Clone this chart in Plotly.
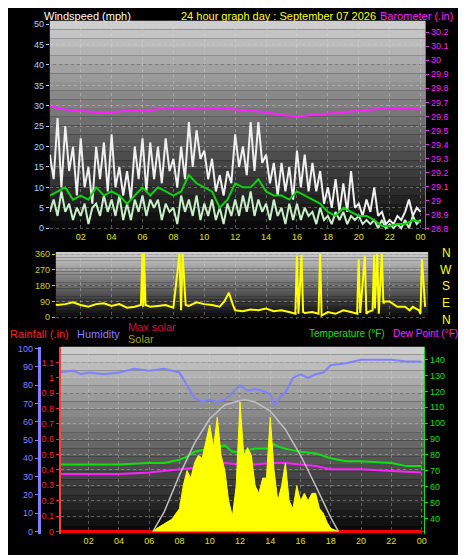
import plotly.graph_objects as go

# ---- data ----
q_hours = [i * 0.25 for i in range(97)]
gust = [18, 12, 27, 10, 25, 14, 20, 8, 22, 10, 15, 6, 20, 12, 21, 9,
        23, 10, 15, 8, 14, 7, 20, 12, 22, 9, 21, 12, 20, 11, 22, 14,
        17, 10, 20, 12, 26, 15, 24, 17, 19, 12, 17, 9, 13, 8, 14, 11,
        23, 15, 20, 13, 26, 14, 26, 16, 18, 11, 16, 8, 16, 9, 15, 7,
        19, 10, 18, 9, 16, 9, 14, 6, 10, 5, 12, 4, 11, 4, 14, 5,
        6, 3, 7, 4, 10, 3, 4, 1, 2, 1, 3, 2, 4, 7, 3, 5, 4]
speed = [4, 7, 3, 9, 4, 6, 2, 5, 3, 6, 1, 5, 6, 3, 8, 4,
         7, 3, 8, 2, 6, 2, 7, 4, 8, 3, 7, 5, 7, 2, 6, 4,
         5, 1, 8, 4, 7, 3, 8, 2, 6, 3, 7, 2, 5, 1, 6, 3,
         7, 3, 8, 4, 9, 3, 7, 4, 6, 2, 7, 3, 5, 1, 6, 2,
         6, 2, 5, 3, 4, 1, 5, 2, 3, 1, 4, 2, 4, 1, 3, 2,
         3, 1, 2, 1, 2, 0, 2, 0, 1, 0, 1, 0, 2, 0, 3, 1, 2]
h_hours = [i * 0.5 for i in range(49)]
avg_speed = [8, 9, 10, 7, 8, 7, 10, 8, 9, 8, 6, 8, 10, 8, 10, 9, 8, 9, 13, 11,
             10, 9, 5, 7, 11, 10, 10, 12, 9, 8, 8, 7, 9, 8, 7, 6, 4, 3, 5, 4,
             3, 3, 2, 0.5, 0.5, 1, 1, 2, 1.5]
hours = list(range(25))
baro = [29.67, 29.65, 29.64, 29.63, 29.63, 29.64, 29.64, 29.65, 29.66, 29.66,
        29.66, 29.66, 29.65, 29.64, 29.63, 29.61, 29.60, 29.61, 29.62, 29.63,
        29.64, 29.65, 29.66, 29.66, 29.65]

dir_hours = [0, 0.5, 1, 1.5, 2, 2.5, 3, 3.5, 4, 4.5,
             5, 5.5, 5.9, 6.0, 6.05, 6.1, 6.2, 6.5, 7, 7.5,
             8, 8.4, 8.5, 8.6, 8.8, 9, 9.5, 10, 10.5, 11,
             11.3, 11.6, 11.9, 12, 12.5, 13, 13.5, 14, 14.5, 15,
             15.5, 15.9, 16.0, 16.1, 16.3, 16.4, 16.5, 17, 17.4, 17.5,
             17.6, 18, 18.5, 19, 19.5, 19.9, 20.0, 20.1, 20.4, 20.5,
             20.6, 20.9, 21.0, 21.05, 21.2, 21.3, 21.5, 21.6, 21.7, 22,
             22.5, 23, 23.3, 23.5, 23.9, 24.0, 24.1, 24.3]
direction = [80, 70, 75, 85, 70, 60, 75, 80, 65, 75,
             55, 60, 70, 360, 60, 360, 70, 60, 65, 70,
             55, 360, 40, 360, 70, 65, 85, 75, 70, 60,
             90, 140, 60, 40, 35, 45, 40, 50, 35, 40,
             30, 20, 350, 20, 355, 30, 25, 30, 20, 360,
             10, 30, 20, 40, 30, 20, 330, 25, 350, 20,
             30, 40, 355, 50, 360, 20, 360, 80, 90, 90,
             60, 60, 40, 60, 40, 20, 330, 60]

hum_hours = [0, 1, 1.5, 2, 3, 4, 5, 6, 7, 8, 8.5, 9, 9.5, 10, 10.5, 11, 11.5, 12, 12.5,
             13, 13.5, 14, 14.3, 14.7, 15, 15.5, 16, 16.5, 17, 17.5, 18, 19, 20, 21, 22, 23, 24]
humidity = [87, 88, 86, 87, 86, 87, 89, 88, 89, 87, 80, 73, 71, 72, 71, 72, 76, 80, 77,
            78, 77, 75, 69, 74, 76, 84, 86, 84, 86, 87, 91, 92, 94, 94, 94, 93, 93]
temp_hours = [0, 2, 4, 6, 7, 8, 8.5, 9, 10, 11, 11.5, 12, 13, 14, 14.2, 14.6, 15, 16, 17,
              18, 19, 20, 22, 23, 24]
temperature = [74, 74, 74, 75, 75, 77, 79, 82, 84, 86, 82, 82, 84, 84, 87, 85, 84, 82, 81,
               78, 76, 76, 75, 73, 73]
dew_hours = [0, 2, 4, 6, 8, 9, 10, 11, 12, 13, 14, 15, 16, 17, 18, 20, 22, 24]
dewpoint = [68, 68, 68, 69, 71, 72, 74, 75, 74, 74, 75, 75, 74, 73, 71, 71, 70, 69]
solar_hours = [6.25, 6.5, 7, 7.5, 8, 8.25, 8.5, 8.75, 9, 9.25, 9.5, 9.75, 10, 10.25, 10.5,
               10.75, 11, 11.25, 11.5, 11.75, 12, 12.25, 12.5, 12.75, 13, 13.25, 13.5, 13.75,
               14, 14.25, 14.5, 14.75, 15, 15.25, 15.5, 15.75, 16, 16.25, 16.5, 16.75, 17,
               17.25, 17.5, 17.75, 18, 18.25, 18.5]
solar = [0, 20, 50, 80, 150, 300, 400, 350, 450, 500, 480, 600, 700, 550, 750,
         500, 400, 200, 100, 300, 850, 500, 550, 500, 300, 250, 350, 350,
         750, 400, 200, 300, 450, 200, 150, 300, 200, 250, 200, 250, 250,
         150, 120, 60, 20, 10, 0]
maxsolar_hours = [6.25, 7, 8, 9, 10, 11, 12, 12.35, 13, 14, 15, 16, 17, 18, 18.5]
maxsolar = [0, 130, 370, 580, 740, 830, 860, 865, 850, 790, 670, 500, 300, 90, 0]
rain_hours = [0, 24]
rain = [0, 0]

tick_hours = list(range(2, 25, 2))
tick_text = ["%02d" % (h % 24) for h in tick_hours]

W, H = 466, 555
def px(x): return x / W
def py(y): return 1 - y / H

FONT = "Liberation Sans"
fig = go.Figure()

# wind
fig.add_trace(go.Scatter(x=q_hours, y=gust, mode="lines", line=dict(color="#f0f0f0", width=2), xaxis="x", yaxis="y"))
fig.add_trace(go.Scatter(x=q_hours, y=speed, mode="lines", line=dict(color="#c8f0c8", width=2), xaxis="x", yaxis="y"))
fig.add_trace(go.Scatter(x=h_hours, y=avg_speed, mode="lines", line=dict(color="#10d010", width=2), xaxis="x", yaxis="y"))
fig.add_trace(go.Scatter(x=hours, y=baro, mode="lines", line=dict(color="#ff20ff", width=2), xaxis="x", yaxis="y2"))
# direction
fig.add_trace(go.Scatter(x=dir_hours, y=direction, mode="lines", line=dict(color="#ffff00", width=2), xaxis="x2", yaxis="y3"))
# bottom
fig.add_trace(go.Scatter(x=solar_hours, y=solar, mode="lines", fill="tozeroy", fillcolor="#ffff00",
                         line=dict(color="#ffff00", width=1), xaxis="x3", yaxis="y7"))
fig.add_trace(go.Scatter(x=maxsolar_hours, y=maxsolar, mode="lines", line=dict(color="#c0c0c0", width=1.5),
                         xaxis="x3", yaxis="y7"))
fig.add_trace(go.Scatter(x=hum_hours, y=humidity, mode="lines", line=dict(color="#8080ff", width=2), xaxis="x3", yaxis="y4"))
fig.add_trace(go.Scatter(x=temp_hours, y=temperature, mode="lines", line=dict(color="#10e010", width=2), xaxis="x3", yaxis="y6"))
fig.add_trace(go.Scatter(x=dew_hours, y=dewpoint, mode="lines", line=dict(color="#ff20ff", width=2), xaxis="x3", yaxis="y6"))
fig.add_trace(go.Scatter(x=rain_hours, y=rain, mode="lines", line=dict(color="#ff0000", width=3), xaxis="x3", yaxis="y5"))

# gradient backgrounds
shapes = []
panels = [(42, 419, 10, 222), (48, 422, 244, 312), (53, 418, 340, 530)]
n = 24
for x0, x1, y0, y1 in panels:
    for i in range(n):
        g = int(205 - 195 * i / (n - 1))
        ya = y0 + (y1 - y0) * i / n
        yb = y0 + (y1 - y0) * (i + 1) / n
        shapes.append(dict(type="rect", xref="paper", yref="paper", layer="below",
                           x0=px(x0), x1=px(x1), y0=py(yb), y1=py(ya),
                           fillcolor="rgb(%d,%d,%d)" % (g, g, g), line=dict(width=0)))

grid = dict(showgrid=True, gridcolor="rgba(220,220,220,0.35)", griddash="dot", gridwidth=1, zeroline=False)
tickf = lambda c: dict(family=FONT, size=9, color=c)

fig.update_layout(
    width=W, height=H, margin=dict(l=0, r=0, t=0, b=0),
    paper_bgcolor="black", plot_bgcolor="rgba(0,0,0,0)", showlegend=False, shapes=shapes,
    xaxis=dict(domain=[px(42), px(419)], range=[0, 24.3], anchor="y", tickvals=tick_hours, ticktext=tick_text,
               tickfont=tickf("#e0e000"), ticks="", **grid),
    yaxis=dict(domain=[py(222), py(10)], range=[-0.5, 50.8], anchor="x", dtick=5, tickfont=tickf("#a8d0ff"),
               ticks="outside", ticklen=3, tickcolor="#a8d0ff", **grid),
    yaxis2=dict(overlaying="y", side="right", anchor="x", range=[28.79, 30.28], dtick=0.1, tick0=28.8,
                tickfont=tickf("#ff20ff"), ticks="outside", ticklen=3, tickcolor="#ff20ff", showgrid=False,
                zeroline=False, showline=True, linecolor="#ff20ff"),
    xaxis2=dict(domain=[px(48), px(422)], range=[0.39, 24.5], anchor="y3", showticklabels=False, ticks="",
                tickvals=tick_hours, **grid),
    yaxis3=dict(domain=[py(312), py(244)], range=[-10, 372], anchor="x2", tickvals=[0, 90, 180, 270, 360],
                tickfont=tickf("#d0d000"), ticks="outside", ticklen=3, tickcolor="#d0d000", **grid),
    xaxis3=dict(domain=[px(53), px(418)], range=[0.16, 24.17], anchor="y5", tickvals=tick_hours, ticktext=tick_text,
                tickfont=tickf("#e0e000"), ticks="", **grid),
    yaxis5=dict(domain=[py(530), py(340)], range=[-0.019, 1.203], anchor="x3",
                tickvals=[i / 10 for i in range(12)], ticktext=["0", "0.1", "0.2", "0.3", "0.4", "0.5", "0.6",
                                                                "0.7", "0.8", "0.9", "1", "1.1"],
                tickfont=tickf("#ff2020"), ticks="outside", ticklen=3, tickcolor="#ff2020",
                showline=True, linecolor="#ff4040", linewidth=2, **grid),
    yaxis4=dict(overlaying="y5", anchor="free", position=px(31), side="left", range=[-1.6, 101.1], dtick=10,
                tickfont=tickf("#8080ff"), ticks="outside", ticklen=3, tickcolor="#8080ff",
                showline=True, linecolor="#8080ff", linewidth=3, showgrid=False, zeroline=False),
    yaxis6=dict(overlaying="y5", side="right", anchor="x3", range=[30.1, 148.1], tickvals=list(range(40, 141, 10)),
                tickfont=tickf("#10e010"), ticks="outside", ticklen=3, tickcolor="#10e010",
                showline=True, linecolor="#10e010", showgrid=False, zeroline=False),
    yaxis7=dict(overlaying="y5", anchor="x3", range=[-19, 1213], visible=False),
)

def label(text, x, y, color, anchor="left", size=11):
    fig.add_annotation(text=text, x=px(x), y=py(y), xref="paper", yref="paper", showarrow=False,
                       xanchor=anchor, yanchor="middle", font=dict(family=FONT, size=size, color=color))

label("Windspeed (mph)", 34, 5, "white")
label("24 hour graph day : September 07 2026", 172, 5, "#ffff00")
label("Barometer (.in)", 372, 5, "#ff20ff")
for i, d in enumerate(["N", "W", "S", "E", "N"]):
    label(d, 440, 245 + i * 17, "#ffff00", anchor="center", size=12)
label("Rainfall (.in)", 0, 327, "#ff2020")
label("Humidity", 67, 327, "#8080ff")
label("Max solar", 119, 320, "#d01040")
label("Solar", 119, 332, "#a0a000")
label("Temperature (°F)", 381, 327, "#10e010", anchor="right", size=10)
label("Dew Point (°F)", 454, 327, "#ff20ff", anchor="right", size=10)

fig.write_html("out.html")
